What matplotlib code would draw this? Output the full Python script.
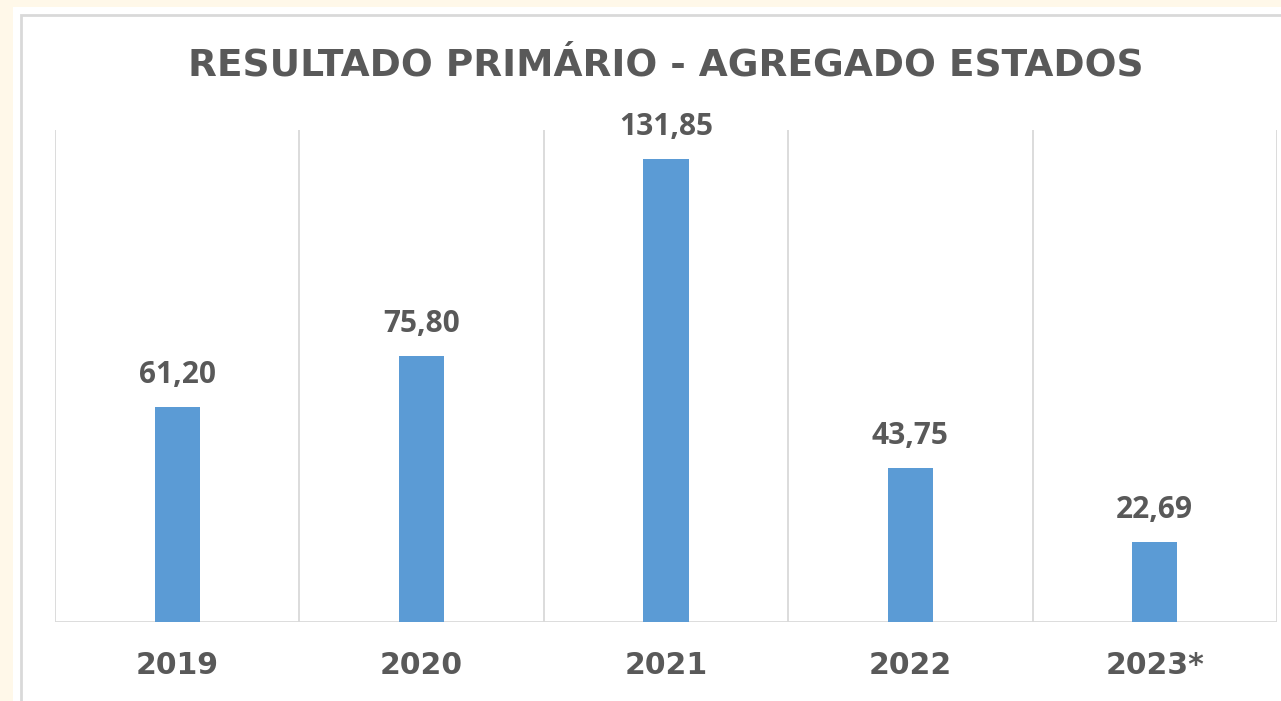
import matplotlib
matplotlib.use("Agg")
import matplotlib.pyplot as plt
from matplotlib.patches import Rectangle
import matplotlib.transforms as mtransforms

# data
years = ["2019", "2020", "2021", "2022", "2023*"]
values = [61.20, 75.80, 131.85, 43.75, 22.69]
title = "RESULTADO PRIMÁRIO - AGREGADO ESTADOS"

BAR_COLOR = "#5B9BD5"
TEXT_COLOR = "#595959"
GRID_COLOR = "#D9D9D9"
W, H = 1281, 701

plt.rcParams["font.family"] = ["Open Sans", "DejaVu Sans"]

fig = plt.figure(figsize=(W / 100, H / 100), dpi=100)
fig.patch.set_facecolor("#FFF8E9")

# white chart area and its thin border
fig.patches.append(Rectangle((13 / W, 0), 1, 1 - 7 / H, transform=fig.transFigure,
                             facecolor="white", edgecolor="none", zorder=-2))
fig.patches.append(Rectangle((21 / W, -0.05), 1, 1.05 - 15 / H, transform=fig.transFigure,
                             facecolor="none", edgecolor=GRID_COLOR, lw=2, zorder=-1))

ax = fig.add_axes([55 / W, (H - 622) / H, (1277 - 55) / W, (622 - 130) / H])
ax.set_facecolor("none")
x = range(len(years))
bars = ax.bar(x, values, width=0.185, color=BAR_COLOR, zorder=3)

ax.set_xlim(-0.5, len(years) - 0.5)
ax.set_ylim(0, 140)
for i in range(len(years) + 1):
    ax.axvline(i - 0.5, color=GRID_COLOR, lw=1.3, zorder=1)
ax.axhline(0, color=GRID_COLOR, lw=2, zorder=2)
for s in ax.spines.values():
    s.set_visible(False)
ax.set_xticks([])
ax.set_yticks([])

# data labels
for xi, v in zip(x, values):
    ax.annotate(f"{v:.2f}".replace(".", ","), (xi, v), xytext=(0, 23),
                textcoords="offset points", ha="center", va="center",
                fontsize=21.5, fontweight="bold", color=TEXT_COLOR)

# category labels
trans = mtransforms.blended_transform_factory(ax.transData, fig.transFigure)
for xi, lab in zip(x, years):
    ax.text(xi, 1 - 666 / H, lab, transform=trans, ha="center", va="center",
            fontsize=21.5, fontweight="bold", color=TEXT_COLOR, family="DejaVu Sans")

fig.text(666 / W, 1 - 66 / H, title, ha="center", va="center",
         fontsize=27, fontweight="bold", color=TEXT_COLOR, family="DejaVu Sans")

fig.savefig("out.png", dpi=100)
